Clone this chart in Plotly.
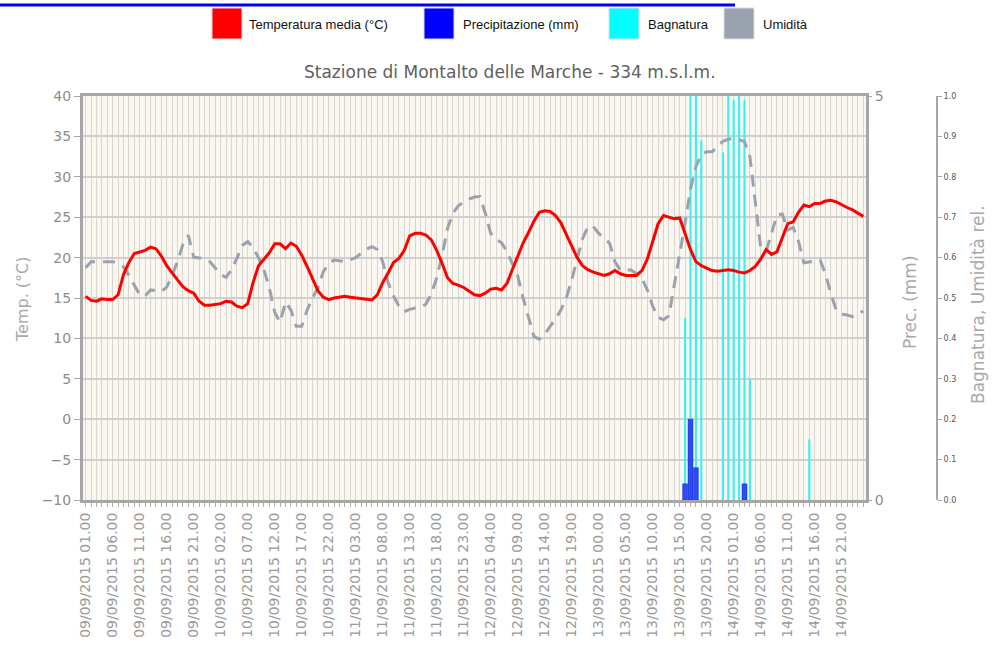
import plotly.graph_objects as go
import pandas as pd

# ---------------- data ----------------
start_time = "2015-09-09 01:00"
n_hours = 145
categories = list(pd.date_range(start_time, periods=n_hours, freq="h").strftime("%d/%m/%Y %H.%M"))

temperature = [15.2, 14.7, 14.6, 14.9, 14.8, 14.8, 15.4, 17.9, 19.4, 20.5,
               20.7, 20.9, 21.3, 21.1, 20.2, 19.0, 18.1, 17.3, 16.4, 15.9,
               15.6, 14.6, 14.1, 14.1, 14.2, 14.3, 14.6, 14.5, 14.0, 13.8,
               14.3, 16.9, 19.0, 19.8, 20.6, 21.7, 21.7, 21.1, 21.8, 21.4,
               20.3, 18.9, 17.3, 15.9, 15.1, 14.8, 15.0, 15.1, 15.2, 15.1,
               15.0, 14.9, 14.8, 14.75, 15.4, 16.9, 18.1, 19.4, 19.9, 20.9,
               22.7, 23.0, 23.0, 22.8, 22.2, 20.9, 19.3, 17.5, 16.8, 16.6,
               16.3, 15.9, 15.4, 15.3, 15.6, 16.1, 16.2, 16.0, 16.8, 18.5,
               20.2, 21.8, 23.1, 24.5, 25.6, 25.8, 25.7, 25.2, 24.3, 22.9,
               21.4, 20.0, 19.0, 18.5, 18.2, 18.0, 17.8, 18.0, 18.4, 18.0,
               17.8, 17.8, 17.8, 18.4, 19.8, 22.0, 24.2, 25.2, 25.0, 24.8,
               24.9, 23.0, 21.0, 19.5, 19.0, 18.7, 18.4, 18.3, 18.4, 18.5,
               18.4, 18.2, 18.1, 18.4, 18.9, 19.8, 21.0, 20.4, 20.7, 22.4,
               24.2, 24.4, 25.6, 26.5, 26.3, 26.7, 26.7, 27.0, 27.1, 26.9,
               26.5, 26.2, 25.9, 25.5, 25.1]

humidity = [0.575, 0.59, 0.59, 0.59, 0.59, 0.59, 0.585, 0.577, 0.556, 0.53,
            0.508, 0.505, 0.52, 0.518, 0.516, 0.527, 0.556, 0.59, 0.633, 0.655,
            0.601, 0.599, 0.597, 0.59, 0.574, 0.558, 0.551, 0.57, 0.598, 0.63,
            0.64, 0.625, 0.60, 0.57, 0.525, 0.465, 0.44, 0.49, 0.47, 0.43,
            0.43, 0.47, 0.50, 0.525, 0.565, 0.585, 0.594, 0.592, 0.59, 0.595,
            0.60, 0.611, 0.621, 0.627, 0.62, 0.59, 0.538, 0.505, 0.48, 0.466,
            0.472, 0.475, 0.477, 0.485, 0.51, 0.55, 0.605, 0.672, 0.71, 0.728,
            0.738, 0.745, 0.75, 0.751, 0.71, 0.66, 0.645, 0.637, 0.615, 0.585,
            0.555, 0.50, 0.45, 0.405, 0.398, 0.41, 0.43, 0.448, 0.47, 0.50,
            0.545, 0.595, 0.646, 0.677, 0.677, 0.66, 0.648, 0.636, 0.59, 0.569,
            0.569, 0.569, 0.56, 0.548, 0.52, 0.48, 0.452, 0.446, 0.456, 0.53,
            0.61, 0.685, 0.77, 0.825, 0.855, 0.862, 0.862, 0.875, 0.888, 0.893,
            0.895, 0.892, 0.887, 0.85, 0.74, 0.625, 0.615, 0.66, 0.705, 0.708,
            0.668, 0.675, 0.64, 0.587, 0.589, 0.592, 0.594, 0.56, 0.51, 0.47,
            0.46, 0.458, 0.454, 0.46, 0.468]

precip_times = ["13/09/2015 16.00", "13/09/2015 17.00", "13/09/2015 18.00", "14/09/2015 03.00"]
precip_mm = [0.2, 1.0, 0.4, 0.2]

wet_times = ["13/09/2015 16.00", "13/09/2015 17.00", "13/09/2015 18.00", "13/09/2015 19.00",
             "13/09/2015 23.00", "14/09/2015 00.00", "14/09/2015 01.00", "14/09/2015 02.00",
             "14/09/2015 03.00", "14/09/2015 04.00", "14/09/2015 15.00"]
wet_values = [0.45, 1.0, 1.0, 0.89, 0.86, 1.0, 0.99, 1.0, 0.99, 0.30, 0.15]

tick_labels = [c if i % 5 == 0 else "" for i, c in enumerate(categories)]

title_text = "Stazione di Montalto delle Marche - 334 m.s.l.m."
legend_items = ["Temperatura media (°C)", "Precipitazione (mm)", "Bagnatura", "Umidità"]
legend_colors = ["#ff0000", "#0000ff", "#00ffff", "#9aa3ad"]

# ---------------- figure ----------------
W, H = 995, 657
L, R, T, B = 83, 30, 96, 157
PW = W - L - R          # paper width in px
PH = H - T - B          # paper height in px


def px_x(px):
    return (px - L) / PW


def px_y(py):
    return (H - B - py) / PH


FONT = "DejaVu Sans"
GRAY_TXT = "#8c8c8c"
BORDER = "#a6a6a6"

fig = go.Figure()

# layer 1 (y): wetness bars + humidity, on the 0-1 scale
fig.add_trace(go.Bar(x=wet_times, y=wet_values, yaxis="y", width=0.4,
                     marker=dict(color="#3ff0f0", line=dict(width=0)), name="Bagnatura"))
fig.add_trace(go.Scatter(x=categories, y=humidity, yaxis="y", mode="lines",
                         line=dict(color="#9aa3ad", width=3, dash="12px,8px"), name="Umidità"))
# layer 2 (y2): precipitation
fig.add_trace(go.Bar(x=precip_times, y=precip_mm, yaxis="y2", width=0.92,
                     marker=dict(color="#2e4cf2", line=dict(color="#1428d8", width=0.5)),
                     name="Precipitazione (mm)"))
# layer 3 (y3): temperature on top
fig.add_trace(go.Scatter(x=categories, y=temperature, yaxis="y3", mode="lines",
                         line=dict(color="#ff0000", width=3), name="Temperatura media (°C)"))

fig.update_layout(
    width=W, height=H,
    margin=dict(l=L, r=R, t=T, b=B, pad=0),
    paper_bgcolor="white",
    plot_bgcolor="#f9f7ef",
    showlegend=False,
    barmode="overlay",
    font=dict(family=FONT, color=GRAY_TXT),
    xaxis=dict(
        type="category", categoryorder="array", categoryarray=categories,
        domain=[0, 783 / PW], range=[-0.5, n_hours - 0.5],
        tickmode="array", tickvals=categories, ticktext=tick_labels,
        tickangle=-90, tickfont=dict(size=14, color="#9a9a9a", family=FONT),
        showgrid=True, gridcolor="#d8d6cf", gridwidth=1,
        showline=True, linecolor=BORDER, linewidth=3, mirror=True,
        ticks="outside", ticklen=4, tickcolor="#b0b0b0", tickwidth=1,
        zeroline=False, fixedrange=True,
    ),
    # 0-1 scale (Bagnatura, Umidità rel.) - free axis on the far right, carries the grid
    yaxis=dict(
        side="right", anchor="free", position=px_x(937),
        range=[0, 1], dtick=0.1, tick0=0, tickformat=".1f",
        showgrid=True, gridcolor="#cfcfcf", gridwidth=2, zeroline=False,
        showline=True, linecolor=BORDER, linewidth=2,
        ticks="outside", ticklen=4, tickcolor=BORDER,
        tickfont=dict(size=8, color="#555555"),
    ),
    # precipitation scale
    yaxis2=dict(
        overlaying="y", side="right", anchor="x", range=[0, 5],
        tickmode="array", tickvals=[0, 5], ticktext=["0", "5"],
        showgrid=False, zeroline=False, showline=False,
        ticks="outside", ticklen=5, tickcolor=BORDER,
        tickfont=dict(size=14, color=GRAY_TXT),
    ),
    # temperature scale - left
    yaxis3=dict(
        overlaying="y", side="left", anchor="x",
        range=[-10, 40], dtick=5, tick0=-10,
        showgrid=False, zeroline=False,
        showline=True, linecolor=BORDER, linewidth=3, mirror=True,
        ticks="outside", ticklen=6, tickcolor=BORDER,
        tickfont=dict(size=14, color=GRAY_TXT),
    ),
)

annotations = [
    dict(text=title_text, x=px_x(510), y=px_y(72), xref="paper", yref="paper",
         xanchor="center", yanchor="middle",
         showarrow=False, font=dict(size=17, color="#606060", family=FONT)),
    dict(text="Temp. (°C)", x=px_x(22), y=px_y(300), xref="paper", yref="paper",
         xanchor="center", yanchor="middle",
         showarrow=False, textangle=-90, font=dict(size=16, color="#a8a8a8", family=FONT)),
    dict(text="Prec. (mm)", x=px_x(910), y=px_y(302), xref="paper", yref="paper",
         xanchor="center", yanchor="middle",
         showarrow=False, textangle=-90, font=dict(size=17, color="#a8a8a8", family=FONT)),
    dict(text="Bagnatura, Umidità rel.", x=px_x(978), y=px_y(305), xref="paper", yref="paper",
         xanchor="center", yanchor="middle",
         showarrow=False, textangle=-90, font=dict(size=17, color="#a8a8a8", family=FONT)),
]

shapes = [
    # clipped page link underline at the very top
    dict(type="line", xref="paper", yref="paper", x0=px_x(0), x1=px_x(735), y0=px_y(5), y1=px_y(5),
         line=dict(color="#0000ee", width=3)),
]

legend_swatch_x = [212, 424, 609, 724]
legend_text_x = [247, 461, 646, 761]
for sx, tx, lab, col in zip(legend_swatch_x, legend_text_x, legend_items, legend_colors):
    shapes.append(dict(type="rect", xref="paper", yref="paper",
                       x0=px_x(sx), x1=px_x(sx + 30), y0=px_y(39), y1=px_y(8),
                       fillcolor=col, line=dict(color="#dddddd", width=1)))
    annotations.append(dict(text=lab, x=px_x(tx), y=px_y(24), xref="paper", yref="paper",
                            xanchor="left", yanchor="middle", showarrow=False,
                            font=dict(size=13, color="#111111", family="Liberation Sans")))

fig.update_layout(annotations=annotations, shapes=shapes)

fig.write_html("out.html", include_plotlyjs=True, full_html=True,
               config={"displayModeBar": False},
               post_script="document.body.style.margin='0';")
